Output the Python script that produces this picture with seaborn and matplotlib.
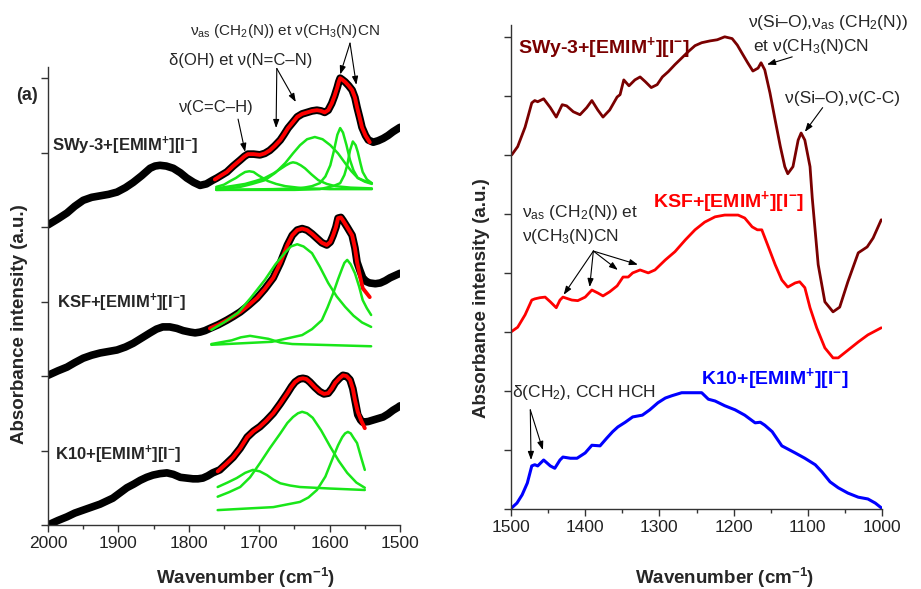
import matplotlib
matplotlib.use("Agg")
import matplotlib.pyplot as plt
from matplotlib.ticker import MultipleLocator, NullFormatter
import seaborn as sns

# ---------------- Left panel: 2000-1500 cm-1 with band decomposition ----------------
swy_wn = [2000, 1986, 1973, 1962, 1950, 1938, 1926, 1914, 1902, 1890, 1879, 1867, 1855,
          1848, 1841, 1832, 1822, 1812, 1803, 1793, 1784, 1775, 1766, 1760, 1753, 1746,
          1737, 1727, 1721, 1716, 1708, 1699, 1692, 1685, 1678, 1670, 1665, 1659, 1652,
          1646, 1639, 1632, 1625, 1618, 1612, 1607, 1602, 1597, 1593, 1589, 1587, 1585,
          1582, 1578, 1573, 1568, 1564, 1561, 1557, 1554, 1549, 1545, 1538, 1531, 1524,
          1517, 1510, 1505, 1500]
swy_abs = [4.03, 4.11, 4.19, 4.28, 4.36, 4.40, 4.42, 4.44, 4.47, 4.53, 4.60, 4.69, 4.79,
           4.82, 4.83, 4.82, 4.79, 4.73, 4.66, 4.60, 4.56, 4.58, 4.63, 4.66, 4.70, 4.74,
           4.82, 4.90, 4.95, 4.98, 4.98, 4.97, 4.99, 5.03, 5.09, 5.17, 5.24, 5.33, 5.41,
           5.48, 5.52, 5.54, 5.56, 5.57, 5.56, 5.54, 5.57, 5.66, 5.76, 5.88, 5.95, 6.00,
           5.98, 5.95, 5.90, 5.84, 5.74, 5.61, 5.46, 5.34, 5.23, 5.17, 5.14, 5.16, 5.19,
           5.23, 5.28, 5.31, 5.34]

ksf_wn = [2000, 1986, 1973, 1962, 1950, 1938, 1926, 1914, 1902, 1890, 1879, 1867, 1855,
          1846, 1837, 1827, 1817, 1808, 1798, 1791, 1784, 1777, 1770, 1758, 1746, 1737,
          1727, 1715, 1703, 1692, 1680, 1670, 1660, 1653, 1646, 1639, 1632, 1625, 1618,
          1611, 1604, 1599, 1595, 1591, 1588, 1584, 1581, 1575, 1568, 1564, 1561, 1557,
          1553, 1548, 1543, 1535, 1528, 1521, 1514, 1507, 1500]
ksf_abs = [2.01, 2.07, 2.12, 2.18, 2.24, 2.28, 2.31, 2.33, 2.35, 2.39, 2.44, 2.51, 2.58,
           2.63, 2.66, 2.66, 2.64, 2.61, 2.59, 2.58, 2.59, 2.61, 2.64, 2.69, 2.75, 2.80,
           2.86, 2.95, 3.05, 3.17, 3.32, 3.52, 3.76, 3.89, 3.96, 3.98, 3.96, 3.91, 3.85,
           3.79, 3.76, 3.80, 3.89, 4.00, 4.12, 4.13, 4.09, 4.00, 3.89, 3.72, 3.53, 3.42,
           3.32, 3.27, 3.25, 3.24, 3.25, 3.28, 3.32, 3.35, 3.38]

k10_wn = [2000, 1986, 1973, 1962, 1950, 1938, 1926, 1917, 1908, 1898, 1888, 1878, 1869,
          1860, 1851, 1841, 1831, 1822, 1812, 1803, 1794, 1787, 1780, 1773, 1766, 1756,
          1747, 1737, 1727, 1717, 1708, 1699, 1690, 1680, 1670, 1660, 1654, 1649, 1643,
          1638, 1633, 1628, 1621, 1614, 1608, 1602, 1597, 1592, 1586, 1581, 1576, 1571,
          1567, 1564, 1560, 1556, 1553, 1545, 1538, 1531, 1524, 1517, 1510, 1503, 1500]
k10_abs = [0.00, 0.06, 0.11, 0.16, 0.20, 0.24, 0.28, 0.32, 0.36, 0.43, 0.50, 0.55, 0.60,
           0.64, 0.67, 0.69, 0.70, 0.68, 0.64, 0.63, 0.62, 0.62, 0.63, 0.66, 0.70, 0.74,
           0.82, 0.91, 1.03, 1.18, 1.26, 1.32, 1.40, 1.50, 1.63, 1.77, 1.86, 1.92, 1.96,
           1.97, 1.96, 1.92, 1.85, 1.79, 1.76, 1.77, 1.83, 1.91, 1.97, 2.01, 2.00, 1.95,
           1.83, 1.68, 1.48, 1.41, 1.38, 1.39, 1.41, 1.43, 1.45, 1.49, 1.54, 1.58, 1.60]

# cumulative fits
swy_fit_wn = [1763, 1753, 1746, 1737, 1727, 1721, 1716, 1708, 1699, 1692, 1685, 1678,
              1670, 1665, 1659, 1652, 1646, 1639, 1632, 1625, 1618, 1612, 1607, 1602,
              1597, 1593, 1589, 1587, 1585, 1582, 1578, 1573, 1568, 1564, 1561, 1557,
              1554, 1549, 1543]
swy_fit = [4.64, 4.70, 4.74, 4.82, 4.90, 4.95, 4.98, 4.98, 4.97, 4.99, 5.03, 5.09,
           5.17, 5.24, 5.33, 5.41, 5.48, 5.52, 5.54, 5.56, 5.57, 5.56, 5.54, 5.57,
           5.66, 5.76, 5.88, 5.95, 6.00, 5.98, 5.95, 5.90, 5.84, 5.74, 5.61, 5.46,
           5.34, 5.23, 5.14]
ksf_fit_wn = [1770, 1758, 1746, 1737, 1727, 1715, 1703, 1692, 1680, 1670, 1660, 1653,
              1646, 1639, 1632, 1625, 1618, 1611, 1604, 1599, 1595, 1591, 1588, 1584,
              1581, 1575, 1568, 1564, 1561, 1557, 1553, 1548, 1543]
ksf_fit = [2.64, 2.69, 2.75, 2.80, 2.86, 2.95, 3.05, 3.17, 3.32, 3.52, 3.76, 3.89,
           3.96, 3.98, 3.96, 3.91, 3.85, 3.79, 3.76, 3.80, 3.89, 4.00, 4.12, 4.13,
           4.09, 4.00, 3.89, 3.72, 3.53, 3.35, 3.18, 3.12, 3.06]
k10_fit_wn = [1759, 1747, 1737, 1727, 1717, 1708, 1699, 1690, 1680, 1670, 1660, 1654,
              1649, 1643, 1638, 1633, 1628, 1621, 1614, 1608, 1602, 1597, 1592, 1586,
              1581, 1576, 1571, 1567, 1564, 1560, 1555, 1550]
k10_fit = [0.72, 0.82, 0.91, 1.03, 1.18, 1.26, 1.32, 1.40, 1.50, 1.63, 1.77, 1.86,
           1.92, 1.96, 1.97, 1.96, 1.92, 1.85, 1.79, 1.76, 1.77, 1.83, 1.91, 1.97,
           2.01, 2.00, 1.95, 1.83, 1.68, 1.52, 1.40, 1.30]

# fitted components (wavenumber, absorbance) for each sample
swy_bands = [
    ([1761, 1750, 1741, 1733, 1727, 1720, 1714, 1708, 1702, 1695, 1688, 1676, 1663,
      1645, 1628, 1600, 1540],
     [4.54, 4.57, 4.62, 4.66, 4.70, 4.74, 4.75, 4.74, 4.70, 4.66, 4.62, 4.58, 4.55,
      4.53, 4.52, 4.51, 4.51]),
    ([1761, 1740, 1720, 1705, 1692, 1680, 1670, 1662, 1656, 1652, 1647, 1641, 1635,
      1626, 1616, 1604, 1592, 1570, 1540],
     [4.52, 4.55, 4.58, 4.62, 4.66, 4.72, 4.78, 4.83, 4.86, 4.87, 4.86, 4.83, 4.79,
      4.71, 4.63, 4.58, 4.55, 4.53, 4.52]),
    ([1761, 1745, 1727, 1710, 1692, 1677, 1663, 1652, 1642, 1632, 1621, 1610, 1599,
      1588, 1578, 1569, 1560, 1550, 1540],
     [4.51, 4.52, 4.54, 4.58, 4.63, 4.73, 4.86, 4.99, 5.10, 5.18, 5.21, 5.18, 5.10,
      4.99, 4.86, 4.75, 4.66, 4.62, 4.59]),
    ([1761, 1680, 1642, 1625, 1614, 1606, 1599, 1594, 1589, 1585, 1581, 1576, 1571,
      1566, 1560, 1550, 1540],
     [4.50, 4.51, 4.52, 4.55, 4.59, 4.68, 4.83, 5.02, 5.24, 5.33, 5.27, 5.10, 4.90,
      4.76, 4.66, 4.61, 4.58]),
    ([1761, 1650, 1614, 1595, 1585, 1579, 1575, 1571, 1567, 1563, 1560, 1556, 1553,
      1547, 1540],
     [4.50, 4.50, 4.51, 4.55, 4.59, 4.70, 4.83, 5.03, 5.15, 5.10, 5.01, 4.85, 4.74,
      4.64, 4.59]),
]
ksf_bands = [
    ([1768, 1750, 1730, 1712, 1692, 1677, 1663, 1655, 1646, 1637, 1625, 1614, 1602,
      1590, 1578, 1566, 1554, 1541],
     [2.62, 2.72, 2.85, 3.05, 3.29, 3.50, 3.66, 3.74, 3.77, 3.74, 3.65, 3.47, 3.25,
      3.07, 2.93, 2.81, 2.72, 2.66]),
    ([1768, 1682, 1639, 1625, 1611, 1603, 1595, 1588, 1582, 1579, 1575, 1570, 1564,
      1558, 1553, 1547, 1541],
     [2.42, 2.46, 2.55, 2.63, 2.75, 2.92, 3.11, 3.30, 3.45, 3.52, 3.56, 3.50, 3.38,
      3.20, 3.02, 2.91, 2.82]),
    ([1768, 1739, 1726, 1713, 1700, 1687, 1670, 1653, 1541],
     [2.43, 2.48, 2.52, 2.54, 2.52, 2.50, 2.45, 2.43, 2.40]),
]
k10_bands = [
    ([1759, 1745, 1732, 1720, 1709, 1699, 1689, 1680, 1670, 1656, 1642, 1600, 1550],
     [0.51, 0.57, 0.63, 0.70, 0.74, 0.72, 0.67, 0.61, 0.56, 0.53, 0.51, 0.49, 0.47]),
    ([1759, 1743, 1727, 1713, 1699, 1685, 1670, 1660, 1652, 1645, 1639, 1632, 1624,
      1612, 1599, 1587, 1575, 1562, 1550],
     [0.38, 0.44, 0.51, 0.64, 0.83, 1.03, 1.23, 1.37, 1.45, 1.50, 1.52, 1.50, 1.44,
      1.27, 1.05, 0.86, 0.70, 0.57, 0.50]),
    ([1759, 1720, 1680, 1642, 1630, 1618, 1606, 1595, 1588, 1582, 1578, 1574, 1570,
      1566, 1561, 1555, 1550],
     [0.20, 0.22, 0.24, 0.31, 0.37, 0.47, 0.65, 0.91, 1.07, 1.18, 1.23, 1.25, 1.23,
      1.17, 1.10, 0.90, 0.74]),
]

# ---------------- Right panel: 1500-1000 cm-1 ----------------
swy_r_wn = [1499, 1491, 1481, 1472, 1468, 1464, 1456, 1447, 1439, 1431, 1425, 1416, 1407,
            1398, 1391, 1383, 1376, 1367, 1357, 1353, 1348, 1341, 1333, 1326, 1319, 1311,
            1303, 1296, 1288, 1279, 1270, 1261, 1252, 1243, 1232, 1222, 1212, 1202, 1195,
            1189, 1181, 1174, 1167, 1163, 1158, 1151, 1144, 1137, 1131, 1127, 1120, 1113,
            1109, 1104, 1097, 1094, 1086, 1077, 1066, 1057, 1046, 1032, 1020, 1012, 1001]
swy_r = [6.00, 6.14, 6.47, 6.88, 6.92, 6.90, 6.95, 6.80, 6.64, 6.85, 6.83, 6.73, 6.68,
         6.80, 6.92, 6.76, 6.64, 6.76, 6.98, 7.02, 7.27, 7.17, 7.27, 7.32, 7.24, 7.14,
         7.19, 7.32, 7.41, 7.53, 7.64, 7.75, 7.85, 7.90, 7.93, 7.95, 8.00, 7.97, 7.86,
         7.73, 7.56, 7.42, 7.47, 7.56, 7.44, 7.05, 6.59, 6.14, 5.80, 5.68, 5.80, 6.25,
         6.37, 6.25, 5.80, 5.27, 4.14, 3.51, 3.34, 3.42, 3.85, 4.34, 4.44, 4.59, 4.90]

ksf_r_wn = [1500, 1491, 1481, 1472, 1468, 1461, 1454, 1447, 1439, 1434, 1430, 1418, 1410,
            1400, 1391, 1383, 1376, 1367, 1357, 1349, 1342, 1336, 1326, 1315, 1306, 1292,
            1279, 1265, 1252, 1239, 1225, 1212, 1194, 1185, 1175, 1168, 1162, 1154, 1144,
            1135, 1127, 1117, 1111, 1104, 1097, 1088, 1077, 1066, 1059, 1046, 1032, 1019,
            1001]
ksf_r = [3.00, 3.08, 3.29, 3.54, 3.56, 3.58, 3.59, 3.51, 3.41, 3.54, 3.59, 3.54, 3.53,
         3.59, 3.71, 3.66, 3.61, 3.68, 3.78, 3.93, 3.93, 4.00, 4.05, 4.00, 4.05, 4.22,
         4.36, 4.56, 4.73, 4.86, 4.95, 4.98, 4.98, 4.93, 4.78, 4.73, 4.73, 4.47, 4.14,
         3.88, 3.76, 3.83, 3.85, 3.75, 3.41, 3.07, 2.73, 2.56, 2.56, 2.69, 2.83, 2.95,
         3.07]

k10_r_wn = [1499, 1492, 1485, 1478, 1472, 1468, 1464, 1456, 1447, 1441, 1434, 1430, 1420,
            1411, 1400, 1391, 1380, 1371, 1363, 1356, 1346, 1336, 1323, 1313, 1302, 1292,
            1283, 1270, 1256, 1243, 1234, 1225, 1212, 1198, 1185, 1171, 1164, 1158, 1148,
            1135, 1117, 1104, 1090, 1081, 1070, 1059, 1046, 1032, 1019, 1009, 1001]
k10_r = [0.02, 0.10, 0.24, 0.44, 0.73, 0.75, 0.73, 0.83, 0.73, 0.69, 0.83, 0.88, 0.86,
         0.86, 0.95, 1.08, 1.07, 1.20, 1.31, 1.39, 1.47, 1.56, 1.59, 1.68, 1.80, 1.88,
         1.92, 1.97, 1.97, 1.97, 1.86, 1.83, 1.75, 1.68, 1.59, 1.46, 1.47, 1.42, 1.31,
         1.07, 0.95, 0.86, 0.75, 0.63, 0.46, 0.36, 0.27, 0.20, 0.17, 0.10, 0.02]

sample_labels = [r"SWy-3+[EMIM$^{\mathbf{+}}$][I$^{\mathbf{-}}$]",
                 r"KSF+[EMIM$^{\mathbf{+}}$][I$^{\mathbf{-}}$]",
                 r"K10+[EMIM$^{\mathbf{+}}$][I$^{\mathbf{-}}$]"]

# ---------------- Style ----------------
sns.set_style("ticks")
plt.rcParams["font.family"] = ["Liberation Sans", "DejaVu Sans"]
plt.rcParams["mathtext.fontset"] = "custom"
plt.rcParams["mathtext.rm"] = "Liberation Sans"
plt.rcParams["mathtext.it"] = "Liberation Sans:italic"
plt.rcParams["mathtext.bf"] = "Liberation Sans:bold"
plt.rcParams["axes.edgecolor"] = "#333333"
plt.rcParams["xtick.color"] = "#333333"
plt.rcParams["ytick.color"] = "#333333"
plt.rcParams["xtick.labelcolor"] = "#222222"

GREEN = "#19e619"
DARKRED = "#7a0000"
W, H = 921, 589
fig = plt.figure(figsize=(W / 100, H / 100), dpi=100)
fig.patch.set_facecolor("white")

def px_axes(x0, y0, x1, y1):
    return fig.add_axes([x0 / W, 1 - y1 / H, (x1 - x0) / W, (y1 - y0) / H])

axL = px_axes(48, 67, 400, 525)
axR = px_axes(511, 25, 882, 509)

def line(ax, x, y, color, lw, z=2):
    sns.lineplot(x=x, y=y, ax=ax, color=color, linewidth=lw, sort=False,
                 estimator=None, legend=False, zorder=z,
                 solid_capstyle="round", solid_joinstyle="round")

# left panel curves
for wn, ab in [(swy_wn, swy_abs), (ksf_wn, ksf_abs), (k10_wn, k10_abs)]:
    line(axL, wn, ab, "black", 5.5, 2)
for wn, ab in [(swy_fit_wn, swy_fit), (ksf_fit_wn, ksf_fit), (k10_fit_wn, k10_fit)]:
    line(axL, wn, ab, "#ff0000", 2.8, 3)
for bands in (swy_bands, ksf_bands, k10_bands):
    for wn, ab in bands:
        line(axL, wn, ab, GREEN, 1.8, 4)

# right panel curves
line(axR, swy_r_wn, swy_r, DARKRED, 2.0)
line(axR, ksf_r_wn, ksf_r, "#ff0000", 2.0)
line(axR, k10_r_wn, k10_r, "#0000ff", 2.2)

# axes formatting
for ax, top, ny in [(axL, 6.15, 7), (axR, 8.2, 9)]:
    ax.set_xlim(2000, 1500) if ax is axL else ax.set_xlim(1500, 1000)
    ax.set_ylim(0, top)
    ax.set_yticks(range(ny))
    ax.yaxis.set_major_formatter(NullFormatter())
    ax.xaxis.set_major_locator(MultipleLocator(100))
    ax.xaxis.set_minor_locator(MultipleLocator(50))
    ax.tick_params(axis="x", which="major", direction="out", length=5, width=1,
                   labelsize=12.5, pad=3)
    ax.tick_params(axis="x", which="minor", direction="out", length=3, width=1)
    ax.tick_params(axis="y", which="major", direction="out", length=5, width=1)
    sns.despine(ax=ax)
    ax.set_xlabel("")
    ax.set_ylabel("")
    for s in ("left", "bottom"):
        ax.spines[s].set_linewidth(1.0)

# axis titles
fig.text(246 / W, 1 - 578 / H, r"Wavenumber (cm$^{\mathbf{-1}}$)", fontsize=13.5,
         fontweight="bold", ha="center", va="center")
fig.text(725 / W, 1 - 578 / H, r"Wavenumber (cm$^{\mathbf{-1}}$)", fontsize=13.5,
         fontweight="bold", ha="center", va="center")
fig.text(20 / W, 1 - 324 / H, "Absorbance intensity (a.u.)", fontsize=13.5,
         fontweight="bold", ha="center", va="center", rotation=90)
fig.text(481 / W, 1 - 298 / H, "Absorbance intensity (a.u.)", fontsize=13.5,
         fontweight="bold", ha="center", va="center", rotation=90)

# left panel labels
axL.text(2030, 5.77, "(a)", fontsize=13, fontweight="bold", ha="center", va="center",
         clip_on=False)
for (x, y), lab in zip([(1994, 5.09), (1987, 2.98), (1990, 0.94)], sample_labels):
    axL.text(x, y, lab, fontsize=12, fontweight="bold", ha="left", va="center")

arrow = dict(arrowstyle="-|>,head_length=0.5,head_width=0.18", color="black", lw=0.8,
             shrinkA=0, shrinkB=0)

axL.text(1761, 5.61, "ν(C=C–H)", fontsize=12, ha="center", va="center")
axL.annotate("", xy=(1720, 5.01), xytext=(1730, 5.45), arrowprops=arrow)
axL.text(1726, 6.24, "δ(OH) et ν(N=C–N)", fontsize=12, ha="center", va="center")
axL.annotate("", xy=(1676, 5.33), xytext=(1675, 6.13), arrowprops=arrow)
axL.annotate("", xy=(1648, 5.68), xytext=(1675, 6.13), arrowprops=arrow)
axL.text(1663, 6.64, r"ν$_{\rm as}$ (CH$_2$(N)) et ν(CH$_3$(N)CN", fontsize=11,
         ha="center", va="center", clip_on=False)
axL.annotate("", xy=(1585, 6.05), xytext=(1571, 6.47), arrowprops=arrow)
axL.annotate("", xy=(1562, 5.91), xytext=(1571, 6.47), arrowprops=arrow)

# right panel labels
axR.text(1491, 7.81, sample_labels[0], fontsize=14, fontweight="bold", color=DARKRED,
         ha="left", va="center")
axR.text(1309, 5.20, sample_labels[1], fontsize=14, fontweight="bold", color="#ff0000",
         ha="left", va="center")
axR.text(1244, 2.20, sample_labels[2], fontsize=14, fontweight="bold", color="#0000ff",
         ha="left", va="center")

axR.text(1181, 8.25, r"ν(Si–O),ν$_{\rm as}$ (CH$_2$(N))", fontsize=12.5, ha="left",
         va="center", clip_on=False)
axR.text(1174, 7.83, r"et ν(CH$_3$(N)CN", fontsize=12.5, ha="left", va="center")
axR.annotate("", xy=(1155, 7.53), xytext=(1121, 7.66), arrowprops=arrow)
axR.text(1131, 6.95, "ν(Si–O),ν(C-C)", fontsize=12.5, ha="left", va="center")
axR.annotate("", xy=(1104, 6.39), xytext=(1080, 6.80), arrowprops=arrow)

axR.text(1485, 5.03, r"ν$_{\rm as}$ (CH$_2$(N)) et", fontsize=12.5, ha="left", va="center")
axR.text(1485, 4.61, r"ν(CH$_3$(N)CN", fontsize=12.5, ha="left", va="center")
for tip in [(1429, 3.63), (1394, 3.76), (1356, 4.05), (1329, 4.14)]:
    axR.annotate("", xy=tip, xytext=(1389, 4.37), arrowprops=arrow)

axR.text(1499, 1.98, r"δ(CH$_2$), CCH HCH", fontsize=12.5, ha="left", va="center")
axR.annotate("", xy=(1473, 0.83), xytext=(1474, 1.68), arrowprops=arrow)
axR.annotate("", xy=(1457, 1.00), xytext=(1474, 1.68), arrowprops=arrow)

fig.savefig("out.png", dpi=100, facecolor="white")
